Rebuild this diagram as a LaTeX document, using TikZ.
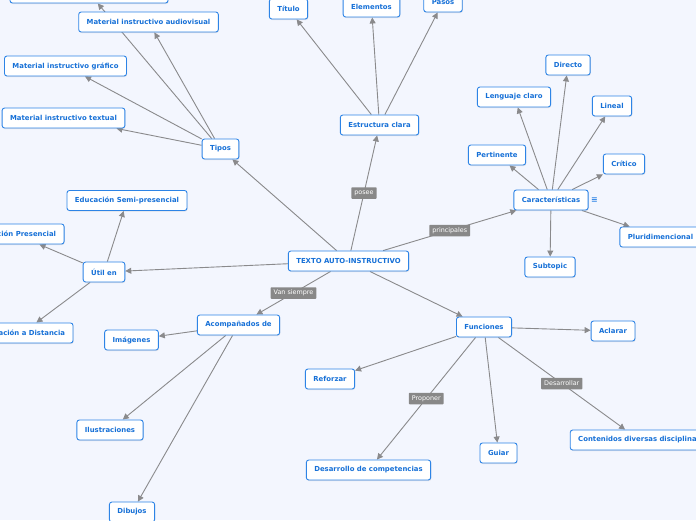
\documentclass[tikz,border=0pt]{standalone}
\usepackage{fontspec}
\setmainfont{DejaVu Sans}
\usetikzlibrary{arrows.meta,shadows}
\definecolor{mapbg}{RGB}{243,246,254}
\definecolor{mapblue}{RGB}{45,132,230}
\definecolor{maptext}{RGB}{22,112,215}
\definecolor{mapline}{RGB}{138,138,140}
\definecolor{maplabel}{RGB}{136,136,136}
\pgfdeclarelayer{bg}
\pgfdeclarelayer{lines}
\pgfsetlayers{bg,lines,main}

\begin{document}
\begin{tikzpicture}[x=1pt, y=-1pt,
  topic/.style={draw=mapblue, line width=0.9pt, fill=white, rounded corners=2.5pt, text=maptext,
    font=\fontsize{6.9}{8}\selectfont\bfseries, inner xsep=8pt, inner ysep=0pt, minimum height=20pt,
    drop shadow={shadow xshift=0.6pt, shadow yshift=-1pt, opacity=0.18}},
  tag/.style={fill=maplabel, text=white, font=\fontsize{6.4}{7}\selectfont, inner xsep=3pt,
    inner ysep=0pt, minimum height=11.5pt, rounded corners=0.8pt},
  link/.style={draw=mapline, line width=0.9pt, -{Triangle[length=6pt, width=6pt]}}]
  \useasboundingbox (0,0) rectangle (696,520);
  \begin{pgfonlayer}{bg}
    \fill[mapbg] (0,0) rectangle (696,520);
  \end{pgfonlayer}

  % central topic
  \node[topic] (texto) at (348.5,261) {TEXTO AUTO-INSTRUCTIVO};

  % estructura
  \node[topic] (estructura) at (379.5,125) {Estructura clara};
  \node[topic] (titulo) at (288.5,9) {Título};
  \node[topic] (elementos) at (371.5,7) {Elementos};
  \node[topic] (pasos) at (443,2) {Pasos};

  % caracteristicas
  \node[topic] (caract) at (551,200) {Características};
  \node[text=mapblue, font=\fontsize{8}{8}\selectfont\bfseries] (caracticon) at (594.5,200) {≡};
  \node[topic] (directo) at (568,65) {Directo};
  \node[topic] (lenguaje) at (514,97) {Lenguaje claro};
  \node[topic] (lineal) at (612,106) {Lineal};
  \node[topic] (pertinente) at (497,155) {Pertinente};
  \node[topic] (critico) at (624,164) {Crítico};
  \node[topic] (pluri) at (660.5,237) {Pluridimencional};
  \node[topic] (subtopic) at (550,267) {Subtopic};

  % tipos
  \node[topic] (tipos) at (220.5,149) {Tipos};
  \node[topic, minimum width=158pt] (tipotop) at (89,-7) {};
  \node[topic] (audiovisual) at (148.5,22) {Material instructivo audiovisual};
  \node[topic] (grafico) at (65.5,66) {Material instructivo gráfico};
  \node[topic] (textual) at (63.5,118) {Material instructivo textual};

  % util en
  \node[topic] (util) at (104,272) {Útil en};
  \node[topic] (semipres) at (127,200.5) {Educación Semi-presencial};
  \node[topic] (presencial) at (15,234) {Educación Presencial};
  \node[topic] (distancia) at (22.5,333) {Educación a Distancia};

  % acompanados
  \node[topic] (acomp) at (238.5,325) {Acompañados de};
  \node[topic] (imagenes) at (131.5,340) {Imágenes};
  \node[topic] (ilustra) at (110,430) {Ilustraciones};
  \node[topic] (dibujos) at (132,512) {Dibujos};

  % funciones
  \node[topic] (funciones) at (484,327) {Funciones};
  \node[topic] (aclarar) at (613,331) {Aclarar};
  \node[topic] (reforzar) at (330,379) {Reforzar};
  \node[topic] (desarrollo) at (368.5,470) {Desarrollo de competencias};
  \node[topic] (guiar) at (498.5,453) {Guiar};
  \node[topic] (contenidos) at (639.5,440) {Contenidos diversas disciplinas};

  \begin{pgfonlayer}{lines}
    \draw[link] (texto) -- node[tag] {posee} (estructura);
    \draw[link] (texto) -- node[tag] {principales} (caract);
    \draw[link] (texto) -- (tipos);
    \draw[link] (texto) -- (util);
    \draw[link] (texto) -- node[tag] {Van siempre} (acomp);
    \draw[link] (texto) -- (funciones);

    \draw[link] (estructura) -- (titulo);
    \draw[link] (estructura) -- (elementos);
    \draw[link] (estructura) -- (pasos);

    \draw[link] (caract) -- (pertinente);
    \draw[link] (caract) -- (lenguaje);
    \draw[link] (caract) -- (directo);
    \draw[link] (caract) -- (lineal);
    \draw[link] (caract) -- (critico);
    \draw[link] (caract) -- (pluri);
    \draw[link] (caract) -- (subtopic);

    \draw[link] (tipos) -- (textual);
    \draw[link] (tipos) -- (grafico);
    \draw[link] (tipos) -- (audiovisual);
    \draw[link] (tipos) -- (tipotop);

    \draw[link] (util) -- (semipres);
    \draw[link] (util) -- (presencial);
    \draw[link] (util) -- (distancia);

    \draw[link] (acomp) -- (imagenes);
    \draw[link] (acomp) -- (ilustra);
    \draw[link] (acomp) -- (dibujos);

    \draw[link] (funciones) -- (aclarar);
    \draw[link] (funciones) -- (reforzar);
    \draw[link] (funciones) -- node[tag] {Proponer} (desarrollo);
    \draw[link] (funciones) -- (guiar);
    \draw[link] (funciones) -- node[tag] {Desarrollar} (contenidos);
  \end{pgfonlayer}
\end{tikzpicture}
\end{document}
